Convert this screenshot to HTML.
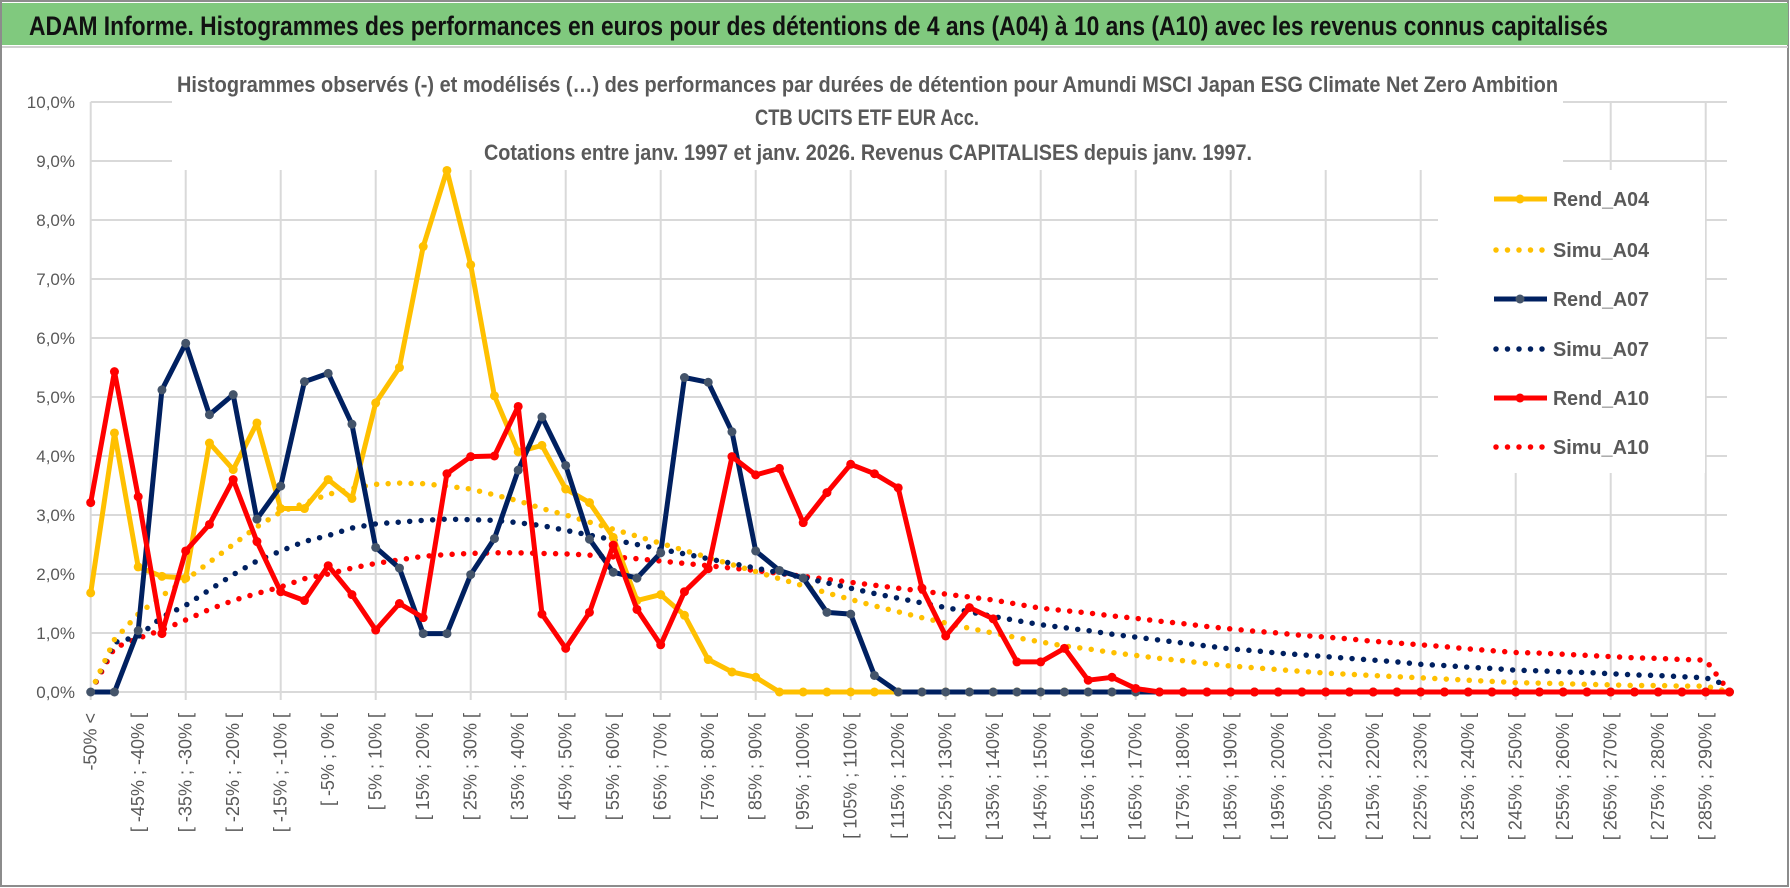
<!DOCTYPE html>
<html><head><meta charset="utf-8"><style>
html,body{margin:0;padding:0;background:#fff;}
svg{display:block;font-family:"Liberation Sans",sans-serif;}
</style></head><body>
<svg id="chart" width="1790" height="888" viewBox="0 0 1790 888" xmlns="http://www.w3.org/2000/svg">
<rect x="0" y="0" width="1790" height="888" fill="#fff"/>
<rect x="1" y="1" width="1787" height="885" fill="none" stroke="#8c8c8c" stroke-width="2"/>
<rect x="2" y="3" width="1786" height="42" fill="#80c97e"/>
<line x1="2" y1="47" x2="1788" y2="47" stroke="#d0d0d0" stroke-width="2"/>
<text x="29" y="35" font-size="27" font-weight="bold" fill="#111" textLength="1579" lengthAdjust="spacingAndGlyphs">ADAM Informe. Histogrammes des performances en euros pour des détentions de 4 ans (A04) à 10 ans (A10) avec les revenus connus capitalisés</text>
<g id="grid"></g>
<g id="axes"></g>
<rect x="172" y="58" width="1391" height="112" fill="#fff"/>
<text x="177" y="92" font-size="22" font-weight="bold" fill="#595959" textLength="1381" lengthAdjust="spacingAndGlyphs">Histogrammes observés (-) et modélisés (…) des performances par durées de détention pour Amundi MSCI Japan ESG Climate Net Zero Ambition</text>
<text x="755" y="125" font-size="22" font-weight="bold" fill="#595959" textLength="224" lengthAdjust="spacingAndGlyphs">CTB UCITS ETF EUR Acc.</text>
<text x="484" y="160" font-size="22" font-weight="bold" fill="#595959" textLength="768" lengthAdjust="spacingAndGlyphs">Cotations entre janv. 1997 et janv. 2026. Revenus CAPITALISES depuis janv. 1997.</text>
<g id="series"></g>
<g id="legend"></g>
</svg>
<script>
const rendA04 = [1.68,4.39,2.12,1.96,1.93,4.22,3.77,4.56,3.11,3.11,3.6,3.28,4.9,5.5,7.55,8.84,7.24,5.02,4.07,4.18,3.44,3.21,2.62,1.55,1.65,1.3,0.55,0.34,0.25,0,0,0,0,0,0,0,0,0,0,0,0,0,0,0,0,0,0,0,0,0,0,0,0,0,0,0,0,0,0,0,0,0,0,0,0,0,0,0,0,0];
const simuA04 = [0,0.89,1.32,1.63,1.9,2.2,2.5,2.8,3.05,3.2,3.35,3.45,3.52,3.54,3.53,3.49,3.44,3.34,3.24,3.11,3.0,2.88,2.76,2.64,2.52,2.4,2.28,2.16,2.04,1.92,1.8,1.68,1.57,1.46,1.36,1.26,1.17,1.08,1.0,0.92,0.85,0.78,0.73,0.67,0.62,0.57,0.53,0.48,0.44,0.41,0.38,0.35,0.32,0.3,0.28,0.26,0.24,0.22,0.2,0.18,0.16,0.15,0.14,0.13,0.12,0.11,0.11,0.1,0.1,0];
const rendA07 = [0,0,1.04,5.12,5.91,4.7,5.04,2.93,3.49,5.26,5.4,4.54,2.45,2.1,0.99,0.99,1.99,2.6,3.76,4.66,3.84,2.59,2.03,1.93,2.36,5.33,5.25,4.41,2.39,2.06,1.93,1.35,1.32,0.28,0,0,0,0,0,0,0,0,0,0,0,0,0,0,0,0,0,0,0,0,0,0,0,0,0,0,0,0,0,0,0,0,0,0,0,0];
const simuA07 = [0,0.84,0.94,1.27,1.47,1.73,1.99,2.22,2.39,2.55,2.65,2.78,2.85,2.88,2.91,2.93,2.92,2.91,2.87,2.82,2.74,2.66,2.58,2.5,2.42,2.34,2.26,2.18,2.1,2.02,1.94,1.85,1.76,1.67,1.59,1.51,1.43,1.36,1.28,1.21,1.14,1.09,1.04,0.98,0.93,0.88,0.83,0.78,0.73,0.7,0.66,0.63,0.6,0.57,0.54,0.51,0.47,0.45,0.42,0.4,0.37,0.36,0.34,0.33,0.31,0.29,0.28,0.26,0.24,0.1];
const rendA10 = [3.21,5.43,3.31,0.99,2.39,2.84,3.6,2.55,1.7,1.55,2.14,1.65,1.05,1.5,1.26,3.7,3.99,4.0,4.84,1.32,0.74,1.35,2.49,1.4,0.8,1.7,2.09,3.99,3.68,3.79,2.87,3.38,3.86,3.7,3.46,1.76,0.95,1.43,1.24,0.51,0.51,0.74,0.2,0.25,0.06,0,0,0,0,0,0,0,0,0,0,0,0,0,0,0,0,0,0,0,0,0,0,0,0,0];
const simuA10 = [0,0.75,0.91,1.05,1.22,1.4,1.55,1.67,1.78,1.92,2.0,2.1,2.18,2.24,2.3,2.33,2.35,2.36,2.36,2.35,2.34,2.32,2.29,2.26,2.22,2.18,2.14,2.1,2.06,2.01,1.96,1.91,1.86,1.81,1.76,1.71,1.66,1.61,1.56,1.49,1.42,1.38,1.34,1.29,1.25,1.2,1.16,1.11,1.07,1.03,1.0,0.96,0.93,0.9,0.86,0.83,0.8,0.77,0.73,0.7,0.67,0.66,0.64,0.62,0.6,0.58,0.57,0.55,0.54,0];
const yTicks = [0,1,2,3,4,5,6,7,8,9,10];
const yTickLabels = ["0,0%","1,0%","2,0%","3,0%","4,0%","5,0%","6,0%","7,0%","8,0%","9,0%","10,0%"];
const categories = ["-50% <"];
for (let k = 1; k < 70; k++) categories.push("[ " + (-55 + 5*k) + "% ; " + (-50 + 5*k) + "% [");

const NS = "http://www.w3.org/2000/svg";
const X0 = 90.7, DX = 23.75, Y0 = 692, PPU = 59, XEND = 1727;
const xs = i => X0 + i * DX;
const ys = v => Y0 - v * PPU;
function mk(tag, attrs, parent) {
  const e = document.createElementNS(NS, tag);
  for (const k in attrs) e.setAttribute(k, attrs[k]);
  parent.appendChild(e);
  return e;
}
const grid = document.getElementById('grid');
const axes = document.getElementById('axes');
yTicks.forEach((t, i) => {
  const l = mk('line', {x1: X0, x2: XEND, y1: ys(t), y2: ys(t), stroke: '#d9d9d9', 'stroke-width': 2}, grid);
  
  
  const tx = mk('text', {x: 75, y: ys(t) + 6, 'text-anchor': 'end', 'font-size': 17, fill: '#595959'}, axes);
  tx.textContent = yTickLabels[i];
  
  
});
for (let i = 0; i < categories.length; i += 4) {
  const l = mk('line', {x1: xs(i), x2: xs(i), y1: ys(10), y2: Y0 + 8, stroke: '#d9d9d9', 'stroke-width': 2}, grid);
  
  
}
categories.forEach((c, i) => {
  if (i % 2 !== 0) return;
  const x = xs(i) + 6, y = 713;
  const tx = mk('text', {x: x, y: y, 'text-anchor': 'end', 'font-size': 18, fill: '#595959', transform: 'rotate(-90 ' + x + ' ' + y + ')'}, axes);
  tx.textContent = c;
  
  
});

const seriesG = document.getElementById('series');
const defs = [
  {name: 'simu-a10', data: simuA10, color: '#ff0000', dotted: true},
  {name: 'simu-a07', data: simuA07, color: '#002060', dotted: true},
  {name: 'simu-a04', data: simuA04, color: '#ffc000', dotted: true},
  {name: 'rend-a04', data: rendA04, color: '#ffc000', marker: '#ffc000'},
  {name: 'rend-a07', data: rendA07, color: '#002060', marker: '#44546a'},
  {name: 'rend-a10', data: rendA10, color: '#ff0000', marker: '#ff0000'}
];
defs.forEach(s => {
  const pts = s.data.map((v, i) => xs(i).toFixed(1) + ',' + ys(v).toFixed(1)).join(' ');
  const attrs = {points: pts, fill: 'none', stroke: s.color, 'stroke-linejoin': 'round'};
  if (s.dotted) { attrs['stroke-width'] = 5.5; attrs['stroke-dasharray'] = '0 11.5'; attrs['stroke-linecap'] = 'round'; }
  else { attrs['stroke-width'] = 5; }
  const pl = mk('polyline', attrs, seriesG);
  
  
  if (s.marker) {
    s.data.forEach((v, i) => {
      const c = mk('circle', {cx: xs(i), cy: ys(v), r: 4.5, fill: s.marker}, seriesG);
      
      
    });
  }
});

const legend = document.getElementById('legend');
mk('rect', {x: 1438, y: 170, width: 267, height: 303, fill: '#fff'}, legend);
const legendItems = [
  {label: 'Rend_A04', color: '#ffc000', marker: '#ffc000'},
  {label: 'Simu_A04', color: '#ffc000'},
  {label: 'Rend_A07', color: '#002060', marker: '#44546a'},
  {label: 'Simu_A07', color: '#002060'},
  {label: 'Rend_A10', color: '#ff0000', marker: '#ff0000'},
  {label: 'Simu_A10', color: '#ff0000'}
];
const legendY = [199, 250, 299, 349, 398, 447];
legendItems.forEach((it, i) => {
  const y = legendY[i];
  const g = mk('g', {}, legend);
  
  
  if (it.marker) {
    mk('line', {x1: 1494, x2: 1547, y1: y, y2: y, stroke: it.color, 'stroke-width': 5}, g);
    mk('circle', {cx: 1520, cy: y, r: 4.5, fill: it.marker}, g);
  } else {
    mk('line', {x1: 1496, x2: 1547, y1: y, y2: y, stroke: it.color, 'stroke-width': 5.5, 'stroke-dasharray': '0 11.5', 'stroke-linecap': 'round'}, g);
  }
  const t = mk('text', {x: 1553, y: y + 7, 'font-size': 20, 'font-weight': 'bold', fill: '#595959', textLength: 96, lengthAdjust: 'spacingAndGlyphs'}, g);
  t.textContent = it.label;
});
</script>
</body></html>
